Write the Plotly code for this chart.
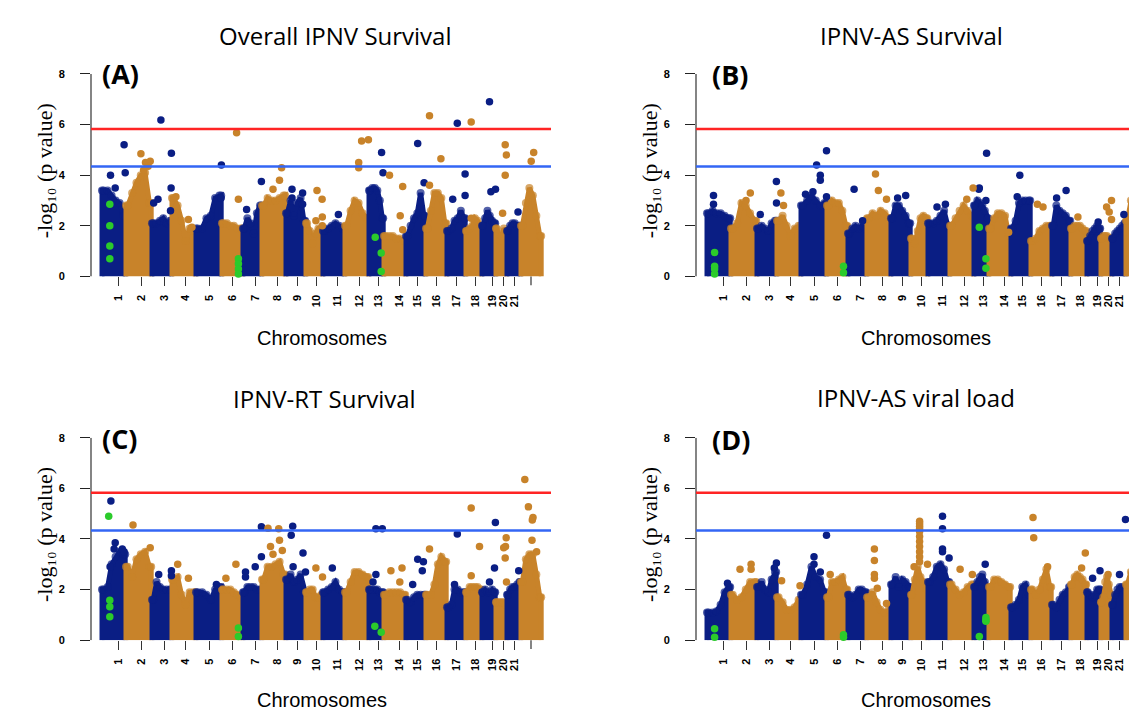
import plotly.graph_objects as go

# ---------------- data ----------------
chrom_len = [24, 26, 20, 24, 26, 21, 19, 24, 20, 17, 22, 24, 15, 22, 20, 21, 19, 16, 14, 11, 14, 21]
chrom_tick_pos = [16.4, 39.7, 63.1, 83.7, 108.1, 130.7, 153.7, 175.7, 195.7, 214.7, 235.7,
                  257.4, 277.1, 297.4, 315.7, 334.7, 354.7, 373.7, 390.4, 401.4, 413.1]
chrom_labels = [str(i) for i in range(1, 22)]
last_tick_pos = 429.4   # 22nd chromosome: tick mark without a label

sig_line = 5.83
sug_line = 4.34

# upper envelope of the dense SNP cloud per chromosome (6 samples along each chromosome)
env_A = [
    [3.4, 3.4, 3.2, 3.0, 2.9, 2.4], [2.8, 3.3, 3.7, 4.0, 4.1, 2.9], [2.1, 2.1, 2.2, 2.3, 2.1, 2.2],
    [3.1, 2.8, 2.2, 1.4, 1.9, 1.8], [1.9, 1.9, 2.3, 2.4, 3.1, 3.2], [2.1, 2.1, 2.0, 2.0, 1.9, 1.9],
    [1.9, 2.3, 2.1, 1.7, 2.5, 2.8], [2.8, 3.1, 3.0, 3.0, 3.1, 3.2], [2.5, 3.0, 2.4, 2.9, 3.1, 2.2],
    [2.1, 1.8, 1.3, 1.7, 1.9, 1.9], [1.8, 1.9, 2.0, 2.1, 2.0, 1.9], [2.0, 2.6, 3.0, 2.9, 2.5, 2.3],
    [3.4, 3.5, 3.5, 3.4, 3.0, 2.3], [1.6, 1.6, 1.6, 1.5, 1.5, 1.4], [1.6, 2.0, 2.3, 2.5, 3.3, 2.4],
    [1.9, 2.6, 3.3, 3.3, 3.1, 2.1], [1.8, 1.9, 2.2, 2.3, 2.6, 2.3], [1.8, 1.9, 2.0, 2.3, 2.2, 2.0],
    [2.0, 2.3, 2.6, 2.4, 2.2, 2.1], [1.9, 1.7, 1.4, 1.6, 1.9, 1.8], [1.8, 2.0, 2.1, 2.1, 2.0, 2.0],
    [2.0, 2.9, 3.5, 3.2, 2.4, 1.6],
]
env_B = [
    [2.5, 2.6, 2.5, 2.5, 2.4, 2.3], [1.9, 2.1, 2.9, 2.8, 2.5, 2.2], [1.9, 2.0, 1.9, 1.8, 2.1, 2.2],
    [2.2, 2.4, 2.0, 1.6, 1.9, 2.0], [2.8, 3.0, 3.2, 3.0, 2.8, 2.9], [2.8, 3.0, 2.9, 2.9, 2.6, 2.0],
    [1.7, 1.9, 2.0, 1.9, 2.0, 1.9], [2.3, 2.5, 2.4, 2.6, 2.5, 2.3], [2.3, 2.8, 2.8, 2.6, 2.4, 2.1],
    [1.5, 1.3, 1.8, 2.3, 2.4, 2.3], [2.1, 2.1, 2.2, 2.4, 2.6, 2.0], [2.0, 2.3, 2.6, 2.8, 2.6, 2.4],
    [2.8, 3.0, 2.9, 2.8, 2.6, 2.3], [1.9, 2.3, 2.5, 2.5, 2.4, 1.6], [1.9, 2.2, 2.9, 3.0, 3.0, 3.0],
    [1.4, 1.5, 1.8, 1.9, 2.0, 2.0], [2.0, 2.8, 2.6, 2.5, 2.4, 2.2], [1.9, 2.0, 2.0, 2.0, 1.9, 1.8],
    [1.4, 1.6, 1.8, 1.9, 2.0, 1.9], [1.5, 1.6, 1.6, 1.6, 1.5, 1.5], [1.5, 1.7, 1.8, 1.9, 2.0, 2.1],
    [2.2, 3.0, 3.7, 3.4, 2.5, 1.7],
]
env_C = [
    [2.0, 2.1, 3.0, 3.3, 3.5, 3.4], [2.9, 2.5, 3.2, 3.4, 3.5, 2.9], [1.6, 2.3, 2.1, 2.0, 2.0, 2.0],
    [2.4, 2.5, 1.8, 1.4, 1.9, 1.9], [1.9, 1.9, 1.8, 1.6, 2.0, 2.1], [2.0, 2.0, 2.0, 1.9, 1.8, 1.7],
    [1.9, 2.1, 2.1, 2.1, 2.0, 2.0], [2.4, 2.9, 2.9, 3.0, 3.1, 2.6], [2.4, 2.6, 2.3, 2.4, 2.6, 1.9],
    [1.9, 2.0, 2.0, 1.7, 1.7, 1.8], [1.9, 2.0, 2.1, 2.3, 2.0, 1.9], [1.9, 2.3, 2.7, 2.7, 2.6, 2.5],
    [2.0, 2.0, 2.0, 2.0, 1.9, 1.9], [1.8, 1.9, 1.9, 1.9, 1.9, 1.8], [1.6, 1.5, 1.7, 1.8, 1.8, 1.8],
    [1.8, 1.8, 2.2, 3.0, 3.3, 3.1], [1.3, 1.4, 2.0, 2.0, 1.9, 1.9], [1.9, 2.1, 2.1, 2.1, 2.1, 2.0],
    [1.9, 2.0, 1.9, 1.9, 2.0, 1.9], [1.5, 1.5, 1.5, 1.5, 1.5, 1.4], [1.8, 2.0, 2.1, 2.1, 2.2, 2.3],
    [2.3, 3.2, 3.4, 3.4, 2.6, 1.7],
]
env_D = [
    [1.1, 1.1, 1.15, 1.4, 1.9, 2.1], [1.8, 1.6, 1.7, 2.0, 2.3, 2.3], [2.1, 2.3, 2.0, 1.9, 2.4, 2.7],
    [1.7, 1.5, 1.2, 1.2, 1.3, 1.6], [1.8, 2.2, 2.9, 2.5, 2.4, 1.9], [1.7, 2.3, 2.3, 2.4, 2.5, 2.0],
    [1.8, 1.7, 1.8, 2.0, 2.0, 1.9], [1.7, 1.9, 1.5, 1.2, 1.1, 1.2], [2.2, 2.5, 2.1, 2.4, 2.3, 2.1],
    [1.8, 2.4, 2.9, 2.5, 2.3, 2.0], [2.3, 2.5, 2.9, 3.0, 2.8, 2.3], [2.2, 2.0, 1.8, 1.9, 2.1, 2.2],
    [2.1, 2.3, 2.5, 2.6, 2.3, 2.0], [2.1, 2.4, 2.4, 2.3, 2.2, 2.1], [1.3, 1.4, 1.6, 2.1, 2.2, 1.8],
    [2.0, 1.8, 2.0, 2.4, 2.8, 2.1], [1.4, 1.3, 1.6, 1.8, 1.9, 2.1], [2.2, 2.5, 2.6, 2.5, 2.4, 2.2],
    [1.9, 1.8, 1.7, 1.8, 2.0, 2.0], [1.5, 1.7, 2.3, 2.5, 2.2, 1.8], [1.4, 1.8, 2.0, 2.1, 2.1, 2.0],
    [2.2, 2.7, 3.2, 3.1, 2.2, 1.2],
]

# individual SNPs standing above the cloud: (chromosome, position within chromosome, -log10 p)
hits_A = [
    (1, 8.9, 4.0), (1, 13.6, 3.5), (1, 22.5, 5.2), (1, 23.6, 4.1),
    (2, 15.3, 4.85), (2, 19.9, 4.5), (2, 24.6, 4.55), (2, 22.5, 4.35), (2, 18.0, 4.2),
    (3, 9.3, 6.18), (3, 19.8, 4.87), (3, 19.5, 3.5), (3, 2.1, 2.9), (3, 6.4, 3.05), (3, 18.9, 2.6),
    (4, 4.3, 3.15), (4, 16.8, 2.25), (4, 20.3, 1.95),
    (5, 25.8, 4.4), (5, 25.5, 3.1),
    (6, 15.0, 5.68), (6, 16.8, 3.05),
    (7, 4.0, 2.65), (7, 18.8, 3.75),
    (8, 11.4, 3.45), (8, 17.9, 3.8), (8, 20.0, 4.3),
    (9, 6.4, 3.45), (9, 6.4, 3.1), (9, 17.0, 3.3), (9, 17.0, 2.85),
    (10, 11.4, 3.4), (10, 16.5, 3.05), (10, 16.7, 2.35), (10, 10.3, 2.2), (10, 16.7, 2.0),
    (11, 15.8, 2.45),
    (12, 14.1, 4.5), (12, 14.1, 4.3), (12, 17.0, 5.35), (12, 23.8, 5.4),
    (13, 13.0, 4.9), (13, 14.4, 4.1),
    (14, 5.9, 4.0), (14, 19.1, 3.55), (14, 16.6, 2.4), (14, 19.1, 1.85),
    (15, 12.1, 5.25), (15, 18.5, 3.7),
    (16, 3.9, 6.35), (16, 3.9, 3.6), (16, 15.3, 4.65),
    (17, 10.7, 6.05), (17, 18.5, 4.05), (17, 18.5, 3.2), (17, 6.1, 3.05),
    (18, 5.6, 6.1), (18, 5.6, 2.3),
    (19, 7.9, 6.9), (19, 9.3, 3.35), (19, 13.9, 3.45),
    (20, 9.6, 5.2), (20, 9.6, 4.0), (20, 10.8, 4.8), (20, 7.0, 2.5),
    (21, 11.4, 2.55),
    (22, 13.1, 4.9), (22, 10.6, 4.55),
]
hits_B = [
    (1, 6.9, 3.2), (1, 6.9, 2.85),
    (2, 19.7, 3.3), (2, 15.4, 3.0),
    (3, 3.7, 2.45), (3, 19.8, 3.75), (3, 19.9, 2.9),
    (4, 4.3, 3.3), (4, 6.9, 2.8),
    (5, 16.0, 4.4), (5, 19.7, 4.0), (5, 19.7, 3.8), (5, 25.9, 4.97), (5, 25.9, 3.15),
    (5, 4.9, 3.25), (5, 12.3, 3.35),
    (7, 6.5, 3.45), (7, 15.0, 2.2),
    (8, 8.9, 4.05), (8, 11.8, 3.4), (8, 19.9, 3.05),
    (9, 7.0, 3.1), (9, 15.1, 3.2),
    (11, 9.4, 2.75), (11, 17.8, 2.85),
    (12, 17.2, 3.05), (12, 23.5, 3.5),
    (13, 13.0, 4.87), (13, 5.7, 3.5), (13, 5.2, 3.45), (13, 12.3, 3.0),
    (14, 20.0, 1.75),
    (15, 9.2, 4.0), (15, 6.6, 3.15),
    (16, 6.8, 2.85), (16, 12.4, 2.75),
    (17, 5.0, 3.1), (17, 14.5, 3.4),
    (18, 7.3, 2.35),
    (19, 11.6, 2.15),
    (20, 6.0, 2.75), (20, 8.6, 2.55), (20, 10.9, 3.0), (20, 10.9, 2.25),
    (21, 12.3, 2.45),
]
hits_C = [
    (1, 9.3, 5.5), (1, 13.6, 3.85), (1, 12.5, 3.6), (1, 20.7, 3.6), (1, 22.5, 3.5), (1, 8.5, 2.9),
    (2, 7.4, 4.55), (2, 24.6, 3.65),
    (3, 7.1, 2.6), (3, 19.8, 2.75), (3, 19.8, 2.55),
    (4, 6.1, 3.0), (4, 16.8, 2.45),
    (5, 20.8, 2.2),
    (6, 4.3, 2.45), (6, 14.3, 3.0),
    (7, 2.9, 2.7), (7, 2.9, 2.5), (7, 12.6, 2.9), (7, 18.8, 3.3), (7, 18.8, 4.48),
    (8, 6.4, 4.42), (8, 17.1, 4.4), (8, 8.9, 3.7), (8, 11.4, 3.4), (8, 17.9, 3.95), (8, 20.7, 3.55),
    (9, 7.1, 4.5), (9, 5.6, 4.15), (9, 17.4, 3.45), (9, 19.9, 2.7), (9, 7.5, 2.9),
    (10, 10.3, 2.85), (10, 16.9, 2.5),
    (11, 9.7, 2.85),
    (13, 7.3, 4.4), (13, 7.3, 2.6), (13, 13.7, 4.4), (13, 4.4, 2.3),
    (14, 7.3, 2.75), (14, 16.2, 2.3), (14, 18.4, 2.85),
    (15, 7.1, 2.2), (15, 12.1, 3.2), (15, 16.7, 2.75), (15, 17.8, 3.1),
    (16, 3.9, 3.6),
    (17, 10.7, 4.2), (17, 7.9, 2.2),
    (18, 5.6, 5.22), (18, 5.6, 2.55), (18, 13.9, 3.7),
    (19, 7.9, 2.3), (19, 12.9, 2.85), (19, 13.8, 4.65),
    (20, 10.6, 4.05), (20, 9.9, 3.7), (20, 8.1, 3.65), (20, 9.6, 3.25), (20, 10.9, 2.3),
    (21, 12.1, 2.75),
    (22, 4.2, 6.35), (22, 7.8, 5.27), (22, 12.4, 4.85), (22, 11.7, 4.75), (22, 11.4, 3.95), (22, 16.0, 3.5),
]
hits_D = [
    (1, 20.9, 2.25),
    (2, 9.4, 2.8), (2, 20.5, 3.0), (2, 20.5, 2.8),
    (3, 19.8, 3.05), (3, 17.7, 2.85),
    (4, 5.0, 2.35), (4, 23.4, 2.15),
    (5, 13.4, 3.3), (5, 13.4, 3.0), (5, 19.7, 2.7), (5, 25.9, 4.15),
    (6, 3.6, 2.6),
    (8, 7.8, 3.6), (8, 7.8, 3.15), (8, 7.8, 2.6), (8, 7.8, 2.45), (8, 10.7, 2.05), (8, 19.9, 1.45),
    (10, 9.0, 4.7), (10, 9.0, 4.6), (10, 9.0, 4.5), (10, 9.0, 4.4), (10, 9.0, 4.3), (10, 9.0, 4.1),
    (10, 9.0, 3.9), (10, 9.0, 3.7), (10, 9.0, 3.5), (10, 9.0, 3.3), (10, 9.0, 3.1),
    (10, 3.5, 2.9), (10, 16.9, 3.0),
    (11, 14.9, 4.9), (11, 14.9, 4.4), (11, 14.9, 3.6), (11, 14.9, 3.5), (11, 21.5, 3.25),
    (12, 10.5, 2.8), (12, 22.7, 2.6),
    (13, 11.6, 3.0),
    (16, 2.4, 4.85), (16, 3.1, 4.05), (16, 17.0, 2.9),
    (18, 14.7, 3.45), (18, 11.0, 2.85),
    (19, 6.0, 2.45), (19, 13.4, 2.75),
    (20, 7.5, 2.6),
    (21, 7.9, 2.6), (21, 13.9, 4.77),
]

# highlighted SNPs (green)
green_A = [(1, 8.2, 2.85), (1, 8.2, 2.0), (1, 8.2, 1.2), (1, 8.2, 0.7),
           (6, 16.8, 0.7), (6, 16.8, 0.5), (6, 16.8, 0.3), (6, 16.8, 0.1),
           (13, 6.6, 1.55), (13, 12.6, 0.93), (13, 12.6, 0.2)]
green_B = [(1, 8.0, 0.95), (1, 8.0, 0.4), (1, 8.0, 0.3), (1, 8.0, 0.1),
           (6, 16.9, 0.4), (6, 16.9, 0.15),
           (13, 5.7, 1.95), (13, 12.3, 0.7), (13, 12.3, 0.33)]
green_C = [(1, 7.1, 4.9), (1, 8.2, 1.58), (1, 8.2, 1.32), (1, 8.2, 0.93),
           (6, 16.8, 0.48), (6, 16.8, 0.15),
           (13, 6.2, 0.55), (13, 12.6, 0.32)]
green_D = [(1, 8.0, 0.45), (1, 8.0, 0.12),
           (6, 16.9, 0.22), (6, 16.9, 0.12),
           (13, 5.7, 0.15), (13, 12.3, 0.9), (13, 12.3, 0.8), (13, 12.3, 0.75)]

titles = ["Overall IPNV Survival", "IPNV-AS Survival", "IPNV-RT Survival", "IPNV-AS viral load"]
tags = ["(A)", "(B)", "(C)", "(D)"]
y_title = "-log\u2081\u2080 (p value)"
x_title = "Chromosomes"

# ---------------- styling / layout ----------------
W, H = 1137, 711
NAVY = "#0A1E84"
GOLD = "#C8832A"
GREEN = "#2BCB2B"
RED = "#FF2424"
BLUE = "#3366F5"
fracs = [1 / 12, 3 / 12, 5 / 12, 7 / 12, 9 / 12, 11 / 12]

starts = []
acc = 0
for L in chrom_len:
    starts.append(acc)
    acc += L

def px(x):
    return x / W

def py(y):
    return 1 - y / H

# pixel geometry of the four panels: (axis x, right end x, top y (=8), bottom y (=0))
geo = [(83, 543, 61, 267), (688, 1137, 61, 267), (83, 543, 431, 637), (688, 1137, 431, 637)]
X0_OFFSET = 10.6   # data units between axis line and first chromosome
title_pos = [(327, 22), (903, 22), (316, 391), (908, 390)]
tag_pos = [(92, 61), (702, 62), (92, 432), (702, 433)]
xlab_pos = [(314, 330), (918, 330), (314, 698), (918, 698)]
ylab_pos = [(36, 160), (641, 160), (36, 530), (641, 530)]

panels = [(env_A, hits_A, green_A), (env_B, hits_B, green_B),
          (env_C, hits_C, green_C), (env_D, hits_D, green_D)]

fig = go.Figure()
shapes = []
annotations = []
tickfont = dict(family="Liberation Sans, Arial", size=11, color="black", weight="bold")

for i, (env, hits, green) in enumerate(panels):
    xa = "x" if i == 0 else f"x{i+1}"
    ya = "y" if i == 0 else f"y{i+1}"
    for k in range(22):
        s, L = starts[k], chrom_len[k]
        col = NAVY if k % 2 == 0 else GOLD
        xs = [s + 0.4, s + 0.4] + [s + L * f for f in fracs] + [s + L - 0.4, s + L - 0.4]
        ys = [0, env[k][0]] + list(env[k]) + [env[k][-1], 0]
        sizes = [0, 8] + [8] * len(fracs) + [8, 0]
        fig.add_trace(go.Scatter(x=xs, y=ys, mode="lines+markers", fill="toself", fillcolor=col,
                                 line=dict(color=col, width=5),
                                 marker=dict(color=col, size=sizes, line=dict(width=0)),
                                 xaxis=xa, yaxis=ya, hoverinfo="skip", showlegend=False))
    for parity, col in ((1, NAVY), (0, GOLD)):
        pts = [h for h in hits if h[0] % 2 == parity]
        fig.add_trace(go.Scatter(x=[starts[c - 1] + p for c, p, v in pts], y=[v for c, p, v in pts],
                                 mode="markers", marker=dict(color=col, size=7.5, line=dict(width=0)),
                                 xaxis=xa, yaxis=ya, cliponaxis=False, showlegend=False))
    fig.add_trace(go.Scatter(x=[starts[c - 1] + p for c, p, v in green], y=[v for c, p, v in green],
                             mode="markers", marker=dict(color=GREEN, size=7.5, line=dict(width=0)),
                             xaxis=xa, yaxis=ya, cliponaxis=False, showlegend=False))

    ax0, ax1, top, bot = geo[i]
    xr = [-X0_OFFSET, ax1 - ax0 - X0_OFFSET]
    xkey = "xaxis" if i == 0 else f"xaxis{i+1}"
    ykey = "yaxis" if i == 0 else f"yaxis{i+1}"
    fig.update_layout(**{
        xkey: dict(domain=[px(ax0), min(1.0, px(ax1))], anchor=ya, range=xr,
                   tickvals=chrom_tick_pos, ticktext=chrom_labels, tickangle=-90,
                   ticks="outside", ticklen=9, tickwidth=1.2, tickcolor="#333",
                   showgrid=False, zeroline=False, showline=False, tickfont=tickfont,
                   ticklabelstandoff=4),
        ykey: dict(domain=[py(bot), py(top)], anchor=xa, range=[0, 8],
                   tickvals=[0, 2, 4, 6, 8], ticks="outside", ticklen=10, tickwidth=1.2,
                   tickcolor="#222", showgrid=False, zeroline=False, showline=False,
                   tickfont=tickfont, ticklabelstandoff=13),
    })
    xref_dom = f"{xa} domain"
    ydom = f"{ya} domain"
    # unlabeled tick for chromosome 22
    shapes.append(dict(type="line", xref=xa, yref=ydom, x0=last_tick_pos, x1=last_tick_pos,
                       y0=0, y1=-9 / (bot - top), line=dict(color="#333", width=1.2)))
    shapes.append(dict(type="line", xref=xref_dom, yref=ya, x0=0, x1=0, y0=0, y1=8,
                       line=dict(color="#666", width=1.6)))
    shapes.append(dict(type="line", xref=xref_dom, yref=ya, x0=0, x1=1, y0=sig_line, y1=sig_line,
                       line=dict(color=RED, width=2.5)))
    shapes.append(dict(type="line", xref=xref_dom, yref=ya, x0=0, x1=1, y0=sug_line, y1=sug_line,
                       line=dict(color=BLUE, width=2.5)))

    tx, ty = title_pos[i]
    annotations.append(dict(text=titles[i], x=px(tx), y=py(ty), xref="paper", yref="paper",
                            xanchor="center", yanchor="middle", showarrow=False,
                            font=dict(family="Open Sans", size=24, color="black")))
    gx, gy = tag_pos[i]
    annotations.append(dict(text=tags[i], x=px(gx), y=py(gy), xref="paper", yref="paper",
                            xanchor="left", yanchor="middle", showarrow=False,
                            font=dict(family="Open Sans", size=27, color="black", weight="bold")))
    lx, ly = xlab_pos[i]
    annotations.append(dict(text=x_title, x=px(lx), y=py(ly), xref="paper", yref="paper",
                            xanchor="center", yanchor="middle", showarrow=False,
                            font=dict(family="Liberation Sans, Arial", size=20, color="black")))
    yx, yy = ylab_pos[i]
    annotations.append(dict(text=y_title, x=px(yx), y=py(yy), xref="paper",
                            yref="paper", xanchor="center", yanchor="middle", textangle=-90,
                            showarrow=False,
                            font=dict(family="Liberation Serif, DejaVu Serif, Times New Roman",
                                      size=22, color="black")))

fig.update_layout(width=W, height=H, margin=dict(l=0, r=0, t=0, b=0),
                  paper_bgcolor="white", plot_bgcolor="white", showlegend=False,
                  shapes=shapes, annotations=annotations)

fig.write_html("out.html")
